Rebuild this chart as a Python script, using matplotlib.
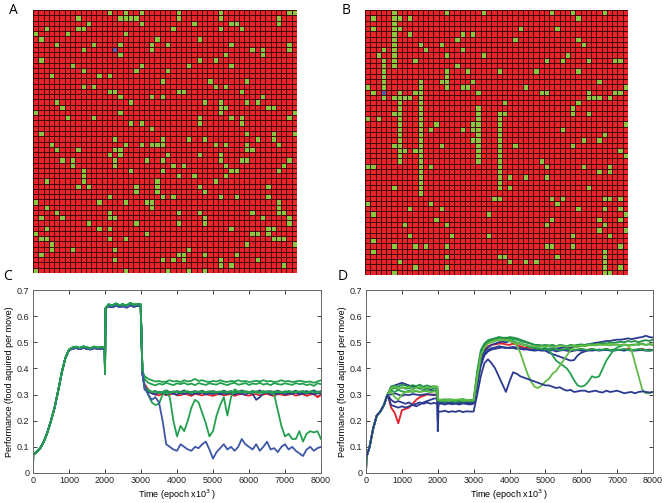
import numpy as np
import matplotlib
matplotlib.use("Agg")
import matplotlib.pyplot as plt
from matplotlib.colors import ListedColormap

plt.rcParams['font.family'] = ['Liberation Sans', 'DejaVu Sans']

# ---------------- Grid data (green food cells per row, 50x50) ----------------
N = 50
A_green = [
    [14, 17, 20, 27, 35, 48, 49], [8, 16, 17, 18, 19, 27, 35, 46], [10, 20, 30, 37, 38, 46],
    [2, 8, 9, 26, 35, 39], [0, 6, 17], [1, 23, 31], [4, 11, 16, 22, 25, 37, 48],
    [9, 22, 41, 43, 48], [16, 36, 43], [1, 31, 34], [7, 20, 29, 37], [9, 19, 25],
    [3, 12, 14], [24, 33, 40], [9, 11, 34, 36], [14, 15, 27, 28, 39], [16, 22, 24, 43],
    [4, 18, 32, 35, 40, 42], [5, 35, 36, 44, 45], [0, 16, 35, 49], [6, 11, 31, 37, 39, 48],
    [18, 20, 31, 39], [22], [1, 40, 45, 49], [15, 24, 29, 32, 42, 45],
    [3, 17, 20, 22, 23, 24, 34, 36, 40, 46], [4, 8, 15, 16, 40, 41], [14, 16, 25, 31, 35],
    [5, 7, 15, 21, 24, 35, 39, 40, 48], [7, 15, 26, 28, 36, 47], [9, 18, 24, 37, 38, 46],
    [9, 27, 30, 36], [2, 9, 23, 34], [8, 10, 19, 23, 31, 44], [19, 23, 32],
    [14, 24, 26, 35, 38, 44], [0, 12, 17, 21, 22, 46], [2, 22, 46],
    [4, 14, 27, 31, 41, 46, 47], [1, 5, 14, 15, 32, 43, 48], [10, 19, 27, 32, 48],
    [2, 12, 14, 37, 44, 45], [0, 21, 41, 42, 44], [1, 2, 14, 17, 45, 46, 47], [3, 40, 49],
    [3, 7, 15, 29], [1, 27, 28, 32, 38], [15, 24, 26, 28, 35, 42], [35, 37, 47],
    [0, 17, 25, 29, 32],
]
A_agent = (7, 15)

B_green = [
    [5, 15, 22, 35, 39, 45], [1, 5, 6, 8, 40], [5], [1, 5, 6, 29, 36], [5, 8, 18, 20],
    [5, 17, 28, 40], [5, 10, 14, 41], [3, 5, 11, 18], [2, 5, 15, 22, 38],
    [3, 5, 9, 34, 37, 42, 47, 48], [3, 5, 17], [3, 15, 19, 25, 32, 40], [3, 15],
    [3, 10, 14, 15, 20, 44], [0, 3, 10, 15, 18, 19, 30, 49],
    [1, 6, 9, 10, 21, 33, 34, 42, 47, 48], [3, 5, 6, 7, 8, 10, 42, 43, 44, 46],
    [6, 10, 26, 40], [6, 10, 21, 39], [5, 6, 10, 21, 25, 26, 39, 42], [0, 2, 6, 10, 21, 25],
    [6, 10, 13, 20, 21, 25, 49], [6, 10, 12, 18, 20, 21, 25, 37], [6, 10, 21, 25, 45],
    [6, 10, 20, 21, 25, 41, 44], [5, 6, 10, 14, 21, 25, 28, 39], [6, 7, 9, 10, 21, 25, 48],
    [6, 10, 21, 25, 49], [6, 10, 21, 25, 33], [0, 1, 10, 12, 25, 34, 41, 46],
    [10, 25, 44, 46], [10, 25, 27, 30, 34], [10, 25], [5, 10, 25, 27, 42], [10],
    [24, 25, 35, 37, 45, 46, 48], [0, 12, 36], [8, 14, 40, 45, 48], [1, 23, 49],
    [13, 35, 44, 48], [7, 15, 34, 45], [44, 49], [8, 16, 23, 39, 46], [1],
    [5, 9, 11, 15, 34, 35, 39, 48], [1, 45], [15, 25, 26, 36, 45], [6, 27, 30, 32, 45],
    [9, 15, 45, 48], [5, 45, 46],
]
B_agent = (15, 3)

# ---------------- Panel C data ----------------
C_t_pre = [0, 5, 100, 200, 300, 400, 500, 600, 700, 800, 900, 1000, 1100, 1200, 1300,
           1400, 1500, 1600, 1700, 1800, 1900, 1990, 2000, 2015, 2100, 2200, 2300, 2400,
           2500, 2600, 2700, 2800, 2900, 2990, 3040]
C_pre_a = [0, 0.07, 0.08, 0.095, 0.12, 0.155, 0.20, 0.25, 0.315, 0.385, 0.44, 0.472, 0.48,
           0.483, 0.478, 0.484, 0.48, 0.477, 0.483, 0.479, 0.481, 0.48, 0.38, 0.63, 0.645,
           0.64, 0.648, 0.642, 0.645, 0.64, 0.65, 0.643, 0.646, 0.645, 0.39]
C_pre_b = [0, 0.07, 0.08, 0.095, 0.12, 0.155, 0.20, 0.25, 0.315, 0.385, 0.44, 0.47, 0.476,
           0.478, 0.474, 0.479, 0.475, 0.473, 0.478, 0.475, 0.476, 0.476, 0.38, 0.63, 0.638,
           0.634, 0.64, 0.636, 0.638, 0.633, 0.642, 0.636, 0.64, 0.64, 0.38]
C_t_post = list(range(3100, 8001, 100))

C_green1 = [0.37, 0.36, 0.355, 0.35, 0.352, 0.348, 0.35, 0.355, 0.35, 0.352,
            0.348, 0.355, 0.35, 0.353, 0.36, 0.352, 0.355, 0.35, 0.348, 0.352,
            0.35, 0.355, 0.35, 0.348, 0.352, 0.35, 0.355, 0.35, 0.352, 0.348,
            0.35, 0.353, 0.35, 0.355, 0.35, 0.352, 0.348, 0.35, 0.355, 0.35,
            0.352, 0.348, 0.35, 0.353, 0.35, 0.348, 0.35, 0.345, 0.35, 0.355]
C_green2 = [0.36, 0.345, 0.34, 0.335, 0.342, 0.338, 0.345, 0.34, 0.336, 0.343,
            0.34, 0.345, 0.338, 0.342, 0.336, 0.344, 0.34, 0.337, 0.343, 0.34,
            0.338, 0.345, 0.34, 0.336, 0.342, 0.345, 0.338, 0.34, 0.344, 0.337,
            0.342, 0.34, 0.345, 0.338, 0.342, 0.336, 0.344, 0.34, 0.338, 0.343,
            0.34, 0.337, 0.344, 0.34, 0.342, 0.336, 0.34, 0.333, 0.343, 0.34]
C_red = [0.34, 0.32, 0.305, 0.30, 0.297, 0.303, 0.298, 0.30, 0.305, 0.297,
         0.298, 0.303, 0.30, 0.295, 0.303, 0.30, 0.297, 0.302, 0.298, 0.295,
         0.30, 0.303, 0.297, 0.30, 0.302, 0.295, 0.30, 0.303, 0.298, 0.296,
         0.30, 0.302, 0.297, 0.30, 0.303, 0.298, 0.295, 0.302, 0.30, 0.297,
         0.30, 0.303, 0.296, 0.30, 0.302, 0.295, 0.30, 0.303, 0.29, 0.298]
C_blue1 = [0.33, 0.315, 0.31, 0.313, 0.307, 0.31, 0.316, 0.309, 0.307, 0.313,
           0.31, 0.316, 0.307, 0.31, 0.313, 0.309, 0.315, 0.307, 0.311, 0.313,
           0.31, 0.307, 0.315, 0.31, 0.313, 0.307, 0.31, 0.316, 0.31, 0.307,
           0.313, 0.31, 0.316, 0.307, 0.311, 0.313, 0.309, 0.315, 0.31, 0.307,
           0.313, 0.31, 0.315, 0.307, 0.31, 0.313, 0.309, 0.316, 0.31, 0.313]
C_blue2 = [0.32, 0.31, 0.305, 0.30, 0.31, 0.305, 0.30, 0.308, 0.303, 0.30,
           0.306, 0.302, 0.308, 0.30, 0.305, 0.303, 0.308, 0.30, 0.305, 0.302,
           0.307, 0.30, 0.305, 0.302, 0.308, 0.30, 0.306, 0.303, 0.30, 0.307,
           0.303, 0.28, 0.29, 0.305, 0.308, 0.30, 0.305, 0.302, 0.307, 0.30,
           0.305, 0.302, 0.308, 0.30, 0.305, 0.303, 0.307, 0.30, 0.305, 0.303]
C_dkgreen = [0.325, 0.315, 0.31, 0.312, 0.306, 0.31, 0.314, 0.308, 0.312, 0.31,
             0.307, 0.313, 0.31, 0.306, 0.312, 0.31, 0.314, 0.307, 0.31, 0.312,
             0.308, 0.31, 0.314, 0.306, 0.31, 0.312, 0.308, 0.313, 0.31, 0.307,
             0.312, 0.31, 0.306, 0.313, 0.31, 0.308, 0.312, 0.31, 0.306, 0.313,
             0.31, 0.308, 0.312, 0.31, 0.314, 0.307, 0.31, 0.312, 0.308, 0.31]
C_green_zig = [0.33, 0.30, 0.27, 0.26, 0.265, 0.30, 0.31, 0.29, 0.20, 0.14,
               0.18, 0.16, 0.20, 0.25, 0.28, 0.27, 0.23, 0.19, 0.14, 0.16,
               0.22, 0.26, 0.29, 0.22, 0.29, 0.32, 0.312, 0.308, 0.313, 0.31,
               0.307, 0.312, 0.31, 0.306, 0.313, 0.31, 0.308, 0.312, 0.31, 0.307,
               0.313, 0.31, 0.308, 0.312, 0.31, 0.306, 0.313, 0.31, 0.308, 0.312]
C_green_drop = [0.33, 0.318, 0.31, 0.312, 0.308, 0.31, 0.313, 0.307, 0.31, 0.312,
                0.308, 0.31, 0.313, 0.307, 0.31, 0.312, 0.308, 0.31, 0.313, 0.307,
                0.31, 0.312, 0.308, 0.31, 0.313, 0.307, 0.31, 0.312, 0.308, 0.31,
                0.313, 0.307, 0.31, 0.312, 0.308, 0.31, 0.30, 0.24, 0.18, 0.14,
                0.15, 0.13, 0.13, 0.16, 0.12, 0.15, 0.16, 0.155, 0.16, 0.13]
C_blue_low = [0.33, 0.30, 0.28, 0.29, 0.27, 0.20, 0.11, 0.10, 0.09, 0.085,
              0.11, 0.10, 0.09, 0.085, 0.10, 0.095, 0.11, 0.12, 0.09, 0.055,
              0.08, 0.095, 0.11, 0.09, 0.10, 0.085, 0.10, 0.13, 0.11, 0.10,
              0.09, 0.11, 0.085, 0.10, 0.12, 0.09, 0.095, 0.08, 0.10, 0.11,
              0.09, 0.10, 0.085, 0.075, 0.065, 0.09, 0.10, 0.085, 0.095, 0.10]

# ---------------- Panel D data ----------------
D_t = [0, 10] + list(range(100, 2000, 100)) + [1990, 2000, 2020] + list(range(2100, 8001, 100))
D_rise = [0, 0.06, 0.10, 0.17, 0.22, 0.235, 0.26, 0.30]

D_green1 = [0.33, 0.335, 0.33, 0.338, 0.335, 0.33, 0.336, 0.332, 0.338, 0.33, 0.335, 0.33, 0.332,
            0.33, 0.29, 0.28,
            0.28, 0.278, 0.282, 0.28, 0.277, 0.28, 0.282, 0.278, 0.28, 0.28,
            0.38, 0.46, 0.49, 0.505, 0.51, 0.515, 0.52, 0.518, 0.515, 0.52,
            0.518, 0.515, 0.51, 0.505, 0.50, 0.495, 0.49, 0.49, 0.488, 0.49,
            0.488, 0.49, 0.485, 0.49, 0.488, 0.485, 0.49, 0.488, 0.49, 0.492,
            0.49, 0.492, 0.495, 0.49, 0.495, 0.498, 0.495, 0.50, 0.498, 0.50,
            0.502, 0.50, 0.505, 0.502, 0.505, 0.50, 0.505, 0.508, 0.505, 0.51]
D_green2 = [0.32, 0.325, 0.32, 0.328, 0.322, 0.325, 0.32, 0.327, 0.322, 0.325, 0.32, 0.325, 0.322,
            0.325, 0.30, 0.275,
            0.275, 0.272, 0.276, 0.274, 0.272, 0.275, 0.273, 0.276, 0.274, 0.275,
            0.36, 0.45, 0.48, 0.50, 0.505, 0.51, 0.512, 0.51, 0.512, 0.51,
            0.505, 0.50, 0.495, 0.49, 0.485, 0.48, 0.478, 0.475, 0.475, 0.472,
            0.475, 0.472, 0.475, 0.47, 0.472, 0.475, 0.472, 0.47, 0.472, 0.475,
            0.472, 0.47, 0.475, 0.472, 0.47, 0.472, 0.475, 0.47, 0.472, 0.47,
            0.472, 0.475, 0.47, 0.472, 0.47, 0.475, 0.472, 0.47, 0.468, 0.47]
D_blue1 = [0.33, 0.335, 0.34, 0.345, 0.34, 0.335, 0.33, 0.328, 0.325, 0.322, 0.32, 0.318, 0.315,
           0.315, 0.25, 0.27,
           0.27, 0.268, 0.27, 0.266, 0.27, 0.268, 0.27, 0.267, 0.27, 0.27,
           0.35, 0.43, 0.465, 0.48, 0.49, 0.495, 0.50, 0.502, 0.50, 0.505,
           0.50, 0.498, 0.495, 0.49, 0.488, 0.485, 0.48, 0.478, 0.475, 0.475,
           0.475, 0.478, 0.476, 0.478, 0.48, 0.478, 0.48, 0.482, 0.485, 0.487,
           0.49, 0.492, 0.495, 0.498, 0.50, 0.502, 0.505, 0.505, 0.508, 0.51,
           0.51, 0.512, 0.515, 0.512, 0.515, 0.518, 0.52, 0.525, 0.52, 0.518]
D_blue2 = [0.30, 0.305, 0.30, 0.295, 0.30, 0.298, 0.302, 0.30, 0.298, 0.30, 0.302, 0.30, 0.298,
           0.30, 0.20, 0.27,
           0.268, 0.27, 0.266, 0.27, 0.268, 0.265, 0.27, 0.268, 0.266, 0.27,
           0.34, 0.42, 0.455, 0.47, 0.478, 0.48, 0.485, 0.482, 0.48, 0.478,
           0.478, 0.475, 0.475, 0.472, 0.475, 0.47, 0.472, 0.47, 0.47, 0.468,
           0.46, 0.455, 0.45, 0.445, 0.44, 0.435, 0.43, 0.432, 0.45, 0.46,
           0.465, 0.47, 0.468, 0.47, 0.472, 0.47, 0.472, 0.47, 0.468, 0.47,
           0.47, 0.472, 0.47, 0.468, 0.47, 0.472, 0.47, 0.468, 0.47, 0.47]
D_blue3 = [0.26, 0.255, 0.25, 0.255, 0.25, 0.255, 0.26, 0.255, 0.262, 0.27, 0.275, 0.28, 0.285,
           0.285, 0.22, 0.265,
           0.265, 0.262, 0.266, 0.263, 0.265, 0.262, 0.266, 0.264, 0.262, 0.265,
           0.33, 0.41, 0.45, 0.465, 0.472, 0.475, 0.478, 0.48, 0.478, 0.48,
           0.482, 0.48, 0.478, 0.475, 0.472, 0.47, 0.468, 0.47, 0.468, 0.47,
           0.468, 0.47, 0.465, 0.468, 0.47, 0.468, 0.465, 0.468, 0.47, 0.468,
           0.47, 0.468, 0.472, 0.47, 0.468, 0.47, 0.472, 0.468, 0.47, 0.472,
           0.47, 0.468, 0.472, 0.47, 0.468, 0.47, 0.472, 0.47, 0.468, 0.47]
D_blue_low = [0.28, 0.27, 0.275, 0.27, 0.265, 0.27, 0.26, 0.265, 0.27, 0.265, 0.27, 0.265, 0.268,
              0.265, 0.16, 0.235,
              0.235, 0.238, 0.233, 0.236, 0.234, 0.238, 0.233, 0.236, 0.235, 0.235,
              0.30, 0.37, 0.42, 0.435, 0.42, 0.40, 0.37, 0.34, 0.31, 0.35,
              0.385, 0.38, 0.37, 0.365, 0.36, 0.355, 0.35, 0.345, 0.34, 0.335,
              0.335, 0.33, 0.325, 0.328, 0.32, 0.315, 0.318, 0.31, 0.312, 0.315,
              0.315, 0.31, 0.312, 0.315, 0.31, 0.308, 0.315, 0.31, 0.312, 0.315,
              0.31, 0.305, 0.308, 0.31, 0.305, 0.31, 0.312, 0.31, 0.308, 0.31]
D_red = [0.25, 0.23, 0.19, 0.24, 0.245, 0.25, 0.265, 0.28, 0.29, 0.295, 0.30, 0.30, 0.30,
         0.30, 0.27, 0.27,
         0.27, 0.272, 0.268, 0.27, 0.272, 0.27, 0.268, 0.27, 0.272, 0.27,
         0.36, 0.44, 0.47, 0.485, 0.49, 0.492, 0.495, 0.495, 0.492, 0.49,
         0.495, 0.49, 0.485, 0.48, 0.48, 0.478, 0.475, 0.475, 0.47, 0.472,
         0.475, 0.47, 0.472, 0.475, 0.47, 0.472, 0.475, 0.47, 0.472, 0.475,
         0.47, 0.472, 0.475, 0.47, 0.472, 0.47, 0.475, 0.47, 0.472, 0.47,
         0.472, 0.47, 0.475, 0.47, 0.472, 0.47, 0.475, 0.47, 0.472, 0.47]
D_lgreen1 = [0.31, 0.29, 0.28, 0.30, 0.31, 0.31, 0.312, 0.315, 0.31, 0.312, 0.315, 0.31, 0.312,
             0.31, 0.28, 0.278,
             0.278, 0.28, 0.276, 0.279, 0.277, 0.28, 0.278, 0.276, 0.279, 0.278,
             0.37, 0.455, 0.485, 0.50, 0.505, 0.51, 0.51, 0.512, 0.51, 0.508,
             0.50, 0.49, 0.46, 0.42, 0.38, 0.35, 0.33, 0.325, 0.335, 0.35,
             0.36, 0.38, 0.39, 0.41, 0.43, 0.45, 0.47, 0.48, 0.482, 0.485,
             0.485, 0.488, 0.49, 0.488, 0.49, 0.492, 0.49, 0.488, 0.49, 0.492,
             0.49, 0.492, 0.49, 0.488, 0.49, 0.495, 0.492, 0.49, 0.495, 0.49]
D_green3 = [0.315, 0.31, 0.318, 0.312, 0.31, 0.315, 0.31, 0.313, 0.31, 0.315, 0.312, 0.31, 0.314,
            0.31, 0.285, 0.28,
            0.28, 0.282, 0.279, 0.281, 0.28, 0.278, 0.282, 0.28, 0.279, 0.28,
            0.39, 0.47, 0.495, 0.508, 0.512, 0.515, 0.518, 0.515, 0.518, 0.515,
            0.512, 0.51, 0.505, 0.50, 0.498, 0.495, 0.49, 0.488, 0.485, 0.48,
            0.47, 0.45, 0.43, 0.42, 0.41, 0.40, 0.38, 0.355, 0.335, 0.33,
            0.335, 0.35, 0.37, 0.365, 0.37, 0.40, 0.43, 0.45, 0.47, 0.48,
            0.485, 0.49, 0.488, 0.49, 0.492, 0.49, 0.495, 0.49, 0.492, 0.49]
D_lgreen2 = [0.325, 0.33, 0.322, 0.328, 0.325, 0.33, 0.322, 0.326, 0.33, 0.324, 0.328, 0.325, 0.33,
             0.33, 0.29, 0.28,
             0.28, 0.278, 0.281, 0.279, 0.28, 0.282, 0.279, 0.28, 0.278, 0.28,
             0.37, 0.45, 0.48, 0.495, 0.50, 0.505, 0.508, 0.51, 0.508, 0.505,
             0.50, 0.498, 0.495, 0.49, 0.488, 0.485, 0.485, 0.482, 0.485, 0.483,
             0.485, 0.482, 0.485, 0.487, 0.485, 0.483, 0.485, 0.487, 0.485, 0.488,
             0.487, 0.49, 0.488, 0.49, 0.492, 0.49, 0.492, 0.495, 0.492, 0.49,
             0.49, 0.49, 0.488, 0.47, 0.42, 0.37, 0.32, 0.305, 0.305, 0.31]

x_ticks = [0, 1000, 2000, 3000, 4000, 5000, 6000, 7000, 8000]
y_ticks = [0, 0.1, 0.2, 0.3, 0.4, 0.5, 0.6, 0.7]
y_tick_labels = ['0', '0.1', '0.2', '0.3', '0.4', '0.5', '0.6', '0.7']
x_label = 'Time (epoch x10$^3$ )'
y_label = 'Performance (food aquired per move)'

# colours
RED = '#e41f26'
NAVY = '#2b3990'
BLUE = '#3d56a8'
DKGREEN = '#1f9148'
GREEN = '#23a04e'
LGREEN = '#62bb47'

W, H = 666, 503
fig = plt.figure(figsize=(W / 100, H / 100), dpi=100)


def grid_panel(rect, green_rows, agent):
    ax = fig.add_axes(rect)
    data = np.zeros((N, N))
    for r, cols in enumerate(green_rows):
        for c in cols:
            data[r, c] = 1
    data[agent[0], agent[1]] = 2
    cmap = ListedColormap(['#e8242a', '#8dc63f', '#5d5aa8'])
    ax.pcolormesh(np.arange(N + 1), np.arange(N + 1), data, cmap=cmap, vmin=0, vmax=2,
                  edgecolors='#460909', linewidth=0.6)
    ax.set_xlim(0, N)
    ax.set_ylim(N, 0)
    ax.axis('off')
    return ax


grid_panel([33 / W, 1 - 273 / H, 264 / W, 263 / H], A_green, A_agent)
grid_panel([365 / W, 1 - 275 / H, 263 / W, 265 / H], B_green, B_agent)


def style_line_axes(ax):
    ax.set_xlim(0, 8000)
    ax.set_ylim(0, 0.7)
    ax.set_xticks(x_ticks)
    ax.set_xticklabels([str(v) for v in x_ticks])
    ax.set_yticks(y_ticks)
    ax.set_yticklabels(y_tick_labels)
    ax.tick_params(direction='in', top=True, right=True, length=3, width=0.6,
                   labelsize=6.5, colors='#222222', pad=2.5)
    for s in ax.spines.values():
        s.set_color('#666666')
        s.set_linewidth(0.7)
    ax.set_xlabel(x_label, fontsize=6.5, labelpad=1.5)
    ax.set_ylabel(y_label, fontsize=6.5, labelpad=2)


# Panel C
axC = fig.add_axes([33 / W, 1 - 473 / H, 288 / W, 183 / H])
LW = 1.3
tC = C_t_pre + C_t_post
for vals, col, pre in [(C_red, RED, C_pre_b), (C_blue1, NAVY, C_pre_b), (C_blue2, NAVY, C_pre_b),
                       (C_dkgreen, DKGREEN, C_pre_a), (C_green2, GREEN, C_pre_a),
                       (C_green1, GREEN, C_pre_a), (C_green_drop, GREEN, C_pre_a),
                       (C_green_zig, GREEN, C_pre_a), (C_blue_low, BLUE, C_pre_b)]:
    axC.plot(tC, pre + vals, color=col, lw=LW)
axC.plot(C_t_pre, C_pre_a, color=GREEN, lw=LW)
style_line_axes(axC)

# Panel D
axD = fig.add_axes([366 / W, 1 - 473 / H, 287 / W, 183 / H])
for vals, col in [(D_red, RED), (D_blue3, NAVY), (D_blue2, NAVY), (D_blue1, NAVY),
                  (D_green2, GREEN), (D_green3, GREEN), (D_lgreen1, LGREEN),
                  (D_green1, DKGREEN), (D_lgreen2, LGREEN), (D_blue_low, NAVY)]:
    axD.plot(D_t, D_rise + vals, color=col, lw=LW)
style_line_axes(axD)

# panel letters
for x, y, s in [(13, 10, 'A'), (346, 10, 'B'), (8, 277, 'C'), (343, 277, 'D')]:
    fig.text(x / W, 1 - y / H, s, fontsize=10, ha='center', va='center',
             family=['Open Sans', 'DejaVu Sans'])

fig.savefig('out.png', dpi=100)
